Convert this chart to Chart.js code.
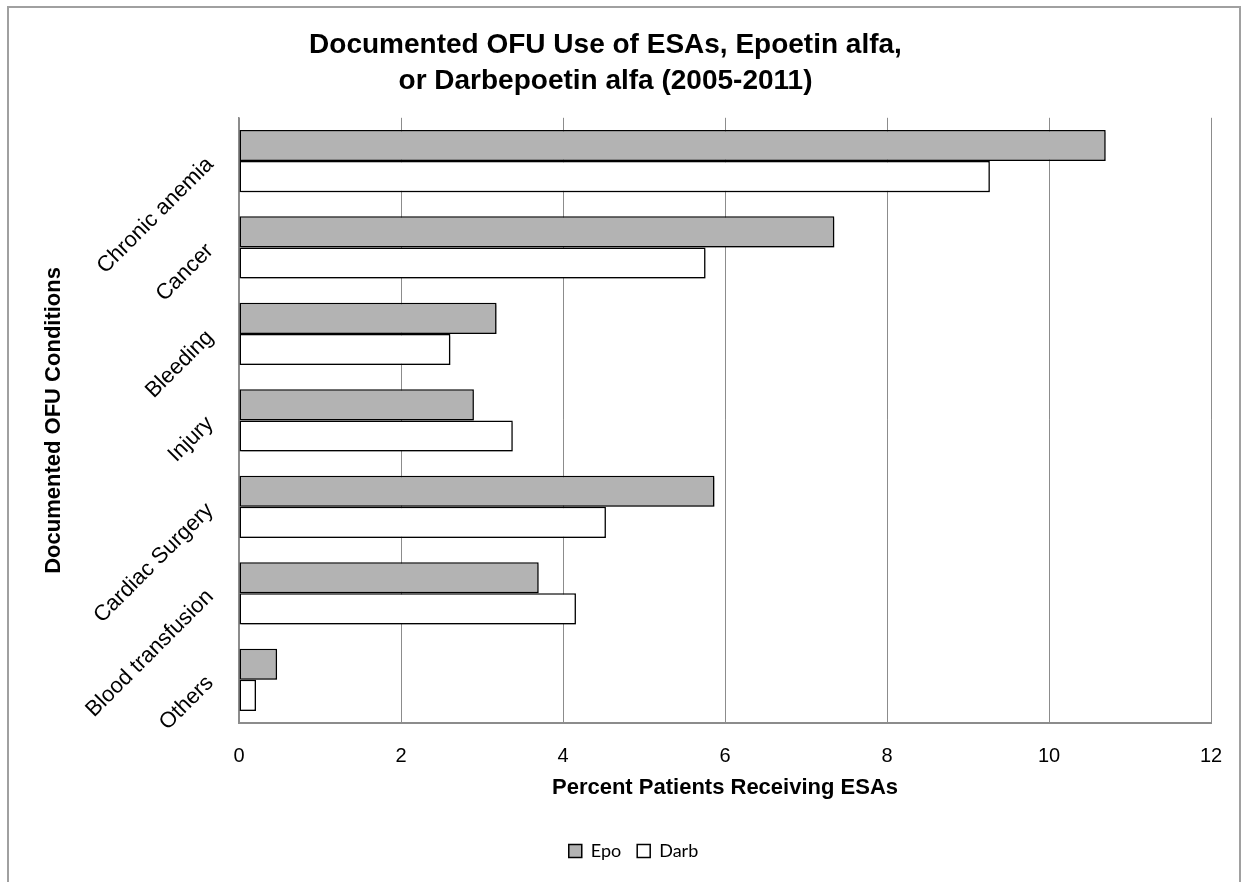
<!DOCTYPE html>
<html>
<head>
<meta charset="utf-8">
<title>Documented OFU Use of ESAs</title>
<script src="https://cdn.jsdelivr.net/npm/chart.js@4.4.1/dist/chart.umd.min.js"></script>
<style>
  html, body { margin: 0; padding: 0; background: #fff; overflow: hidden; }
  #frame { position: absolute; left: 7px; top: 6px; width: 1234px; height: 920px;
           border: 2px solid #a0a0a0; box-sizing: border-box; }
  #wrap { position: absolute; left: 0; top: 0; width: 1248px; height: 882px; }
</style>
</head>
<body>
<div id="frame"></div>
<div id="wrap"><canvas id="c" width="1248" height="882"></canvas></div>
<script>
// Conditions (top to bottom) and percent of patients receiving each agent
const categories = ['Chronic anemia', 'Cancer', 'Bleeding', 'Injury', 'Cardiac Surgery', 'Blood transfusion', 'Others'];
const epoValues  = [10.7, 7.35, 3.18, 2.9, 5.87, 3.7, 0.47];
const darbValues = [9.27, 5.76, 2.61, 3.38, 4.53, 4.16, 0.21];
const xTickValues = [0, 2, 4, 6, 8, 10, 12];
const seriesNames = ['Epo', 'Darb'];
const titleLines = ['Documented OFU Use of ESAs, Epoetin alfa,', 'or Darbepoetin alfa (2005-2011)'];

const SANS = "'Liberation Sans', Arial, sans-serif";

// soft drop shadow under the bars
const barShadow = {
  id: 'barShadow',
  beforeDatasetsDraw(chart) {
    const c = chart.ctx;
    c.save();
    c.shadowColor = 'rgba(0,0,0,0.35)';
    c.shadowOffsetX = 2;
    c.shadowOffsetY = 2;
    c.shadowBlur = 2;
  },
  afterDatasetsDraw(chart) { chart.ctx.restore(); }
};

// move the legend row a little to the right of the canvas centre
const legendNudge = {
  id: 'legendNudge',
  afterLayout(chart) {
    const lg = chart.legend;
    if (lg) { lg.left += 28; lg.right += 28; }
  }
};

new Chart(document.getElementById('c'), {
  type: 'bar',
  data: {
    labels: categories,
    datasets: [
      { label: seriesNames[0], data: epoValues, backgroundColor: '#b3b3b3', borderColor: '#000',
        borderWidth: 1.5, borderSkipped: false, categoryPercentage: 0.72, barPercentage: 1 },
      { label: seriesNames[1], data: darbValues, backgroundColor: '#ffffff', borderColor: '#000',
        borderWidth: 1.5, borderSkipped: false, categoryPercentage: 0.72, barPercentage: 1 }
    ]
  },
  options: {
    indexAxis: 'y',
    responsive: false,
    animation: false,
    layout: { padding: { top: 0, left: 0, right: 37, bottom: 12 } },
    scales: {
      x: {
        type: 'linear', min: 0, max: 12,
        afterBuildTicks(scale) { scale.ticks = xTickValues.map(v => ({ value: v })); },
        ticks: { font: { family: SANS, size: 20 }, color: '#000', padding: 21 },
        grid: { color: '#8c8c8c', lineWidth: 1, drawTicks: false },
        border: { display: true, color: '#8c8c8c', width: 2 },
        title: { display: true, text: 'Percent Patients Receiving ESAs', color: '#000',
                 font: { family: SANS, size: 22, weight: 'bold' }, padding: { top: 0, bottom: 25 } },
        afterFit(scale) { scale.height = 103; }
      },
      y: {
        type: 'category', offset: true,
        grid: { display: false, drawTicks: false },
        border: { display: true, color: '#8c8c8c', width: 1.5 },
        ticks: { autoSkip: false, minRotation: 45, maxRotation: 45, padding: 29,
                 font: { family: SANS, size: 22 }, color: '#000' },
        title: { display: true, text: 'Documented OFU Conditions', color: '#000',
                 font: { family: SANS, size: 22, weight: 'bold' }, padding: { top: 41, bottom: 0 } },
        afterFit(scale) { scale.width = 239; }
      }
    },
    plugins: {
      title: {
        display: true, text: titleLines, color: '#000',
        font: { family: SANS, size: 28, weight: 'bold', lineHeight: 1.3 },
        padding: { top: 27, bottom: 18 }
      },
      legend: {
        position: 'bottom',
        labels: { font: { family: 'Lato, Carlito, sans-serif', size: 18 }, color: '#000',
                  boxWidth: 13, boxHeight: 13, padding: 16 }
      },
      tooltip: { enabled: false }
    }
  },
  plugins: [barShadow, legendNudge]
});
</script>
</body>
</html>
